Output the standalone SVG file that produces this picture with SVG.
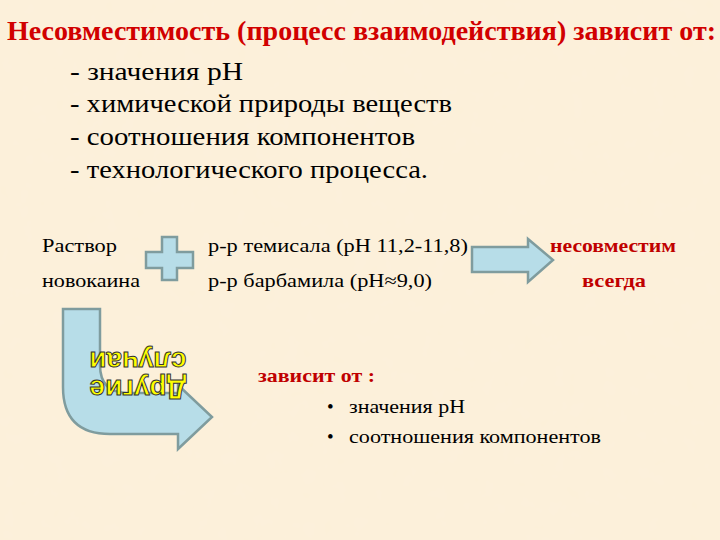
<svg xmlns="http://www.w3.org/2000/svg" width="720" height="540" viewBox="0 0 720 540">
<defs>
<style>
.title{font-weight:bold;font-size:27px;fill:#d10000}
.item{font-size:25px;fill:#000}
.txt{font-size:19px;fill:#000}
.red{font-weight:bold;font-size:19px;fill:#c00000}
.shape{fill:#b7dde8;stroke:#7f9c9e;stroke-width:2.5;stroke-linejoin:miter}
.yel{font-weight:bold;font-size:28px;fill:#ffff00;stroke:#333;stroke-width:1;text-anchor:middle}
</style>
<filter id="tex" x="0" y="0" width="100%" height="100%">
<feTurbulence type="fractalNoise" baseFrequency="0.06" numOctaves="3" seed="4" result="n"/>
<feColorMatrix in="n" type="matrix" values="0 0 0 0 0.96  0 0 0 0 0.88  0 0 0 0 0.74  0 0 0 0.35 0"/>
</filter>
</defs>
<rect width="720" height="540" fill="#fcf0d9"/>
<rect width="720" height="540" filter="url(#tex)"/>

<g font-family="Liberation Serif, DejaVu Serif, serif">
<g id="header">
<text class="title" x="7" y="40" textLength="709" lengthAdjust="spacingAndGlyphs">Несовместимость (процесс взаимодействия) зависит от:</text>
<text class="item" x="70" y="80" textLength="173" lengthAdjust="spacingAndGlyphs">- значения рН</text>
<text class="item" x="70" y="112" textLength="382" lengthAdjust="spacingAndGlyphs">- химической природы веществ</text>
<text class="item" x="70" y="145" textLength="345" lengthAdjust="spacingAndGlyphs">- соотношения компонентов</text>
<text class="item" x="70" y="178" textLength="358" lengthAdjust="spacingAndGlyphs">- технологического процесса.</text>
</g>

<g id="novocaine">
<text class="txt" x="42" y="252" textLength="75" lengthAdjust="spacingAndGlyphs">Раствор</text>
<text class="txt" x="42" y="287" textLength="98" lengthAdjust="spacingAndGlyphs">новокаина</text>
</g>

<g id="solutions">
<text class="txt" x="208" y="252" textLength="260" lengthAdjust="spacingAndGlyphs">р-р темисала (рН 11,2-11,8)</text>
<text class="txt" x="208" y="287" textLength="224" lengthAdjust="spacingAndGlyphs">р-р барбамила (рН≈9,0)</text>
</g>

<g id="result">
<text class="red" x="613" y="252" text-anchor="middle" textLength="126" lengthAdjust="spacingAndGlyphs">несовместим</text>
<text class="red" x="614" y="287" text-anchor="middle" textLength="64" lengthAdjust="spacingAndGlyphs">всегда</text>
</g>

<g id="depends">
<text class="red" x="258" y="382" textLength="117" lengthAdjust="spacingAndGlyphs">зависит от :</text>
<text class="txt" x="327" y="413">•</text>
<text class="txt" x="349" y="413" textLength="116" lengthAdjust="spacingAndGlyphs">значения рН</text>
<text class="txt" x="327" y="443">•</text>
<text class="txt" x="349" y="443" textLength="252" lengthAdjust="spacingAndGlyphs">соотношения компонентов</text>
</g>
</g>

<g id="plus">
<path class="shape" d="M162,237 H177 V252 H193 V268 H177 V280 H162 V268 H146 V252 H162 Z"/>
</g>

<g id="connectors">
<path class="shape" d="M472,247 H528 V239 L553,260 L528,282 V272 H472 Z"/>
<path class="shape" d="M63,309 H100 V365 Q100,393 128,393 H178 V385 L212,417 L178,449 V434 H110 Q63,434 63,387 Z"/>
</g>

<g id="other-cases" transform="rotate(180 138 376)" font-family="Liberation Sans, Arial, sans-serif">
<text class="yel" x="138" y="372" textLength="97" lengthAdjust="spacingAndGlyphs">Другие</text>
<text class="yel" x="138" y="400" textLength="97" lengthAdjust="spacingAndGlyphs">случаи</text>
</g>
</svg>
